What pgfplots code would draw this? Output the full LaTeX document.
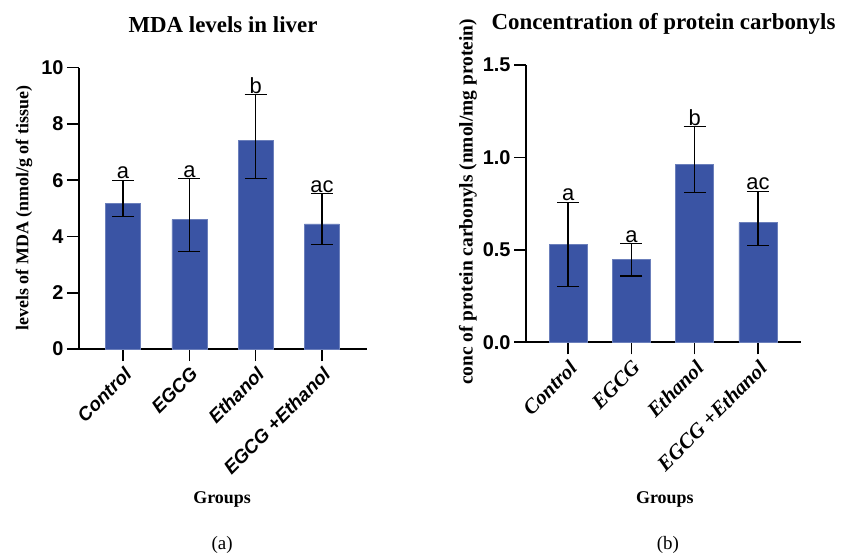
\documentclass[border=0pt]{standalone}
\usepackage{fontspec}
\setmainfont{Liberation Serif}
\setsansfont{Liberation Sans}
\usepackage{pgfplots}
\pgfplotsset{compat=1.18}
\definecolor{barblue}{RGB}{58,84,164}
\pgfplotsset{mybar/.style={
  scale only axis, axis lines=left, axis line style={-, line width=1.6bp},
  major tick style={line width=1.6bp, black}, major tick length=12bp, tick align=outside,
  xtick={0,1,2,3}, xticklabels={Control,EGCG,Ethanol,EGCG +Ethanol},
  ymin=0, enlargelimits=false, xmin=-0.665, xmax=3.68, clip=false,
  ybar, bar shift=0pt,
  /pgf/number format/assume math mode=true,
  y tick label style={font=\sffamily\bfseries\fontsize{20}{24}\selectfont},
  title style={font=\rmfamily\bfseries\fontsize{23}{27}\selectfont, anchor=center},
  xlabel style={font=\rmfamily\bfseries\fontsize{18}{22}\selectfont, anchor=center},
  ylabel style={font=\rmfamily\bfseries\fontsize{18}{22}\selectfont, anchor=center, rotate=0},
  mybars/.style={fill=barblue, draw=barblue!75!white, line width=0.5bp,
    error bars/.cd, y dir=both, y explicit,
    error bar style={line width=1.2bp, black},
    error mark options={rotate=90, mark size=11bp, line width=1.2bp, black}},
}}
\begin{document}
\begin{tikzpicture}
\path[use as bounding box] (0,0) rectangle (842bp,554bp);
% (a)
\begin{axis}[mybar, at={(79bp,205bp)}, anchor=south west, width=288bp, height=281.3bp,
  ymax=10, ytick={0,2,4,6,8,10}, bar width=35bp,
  x tick label style={rotate=45, anchor=north east, font=\sffamily\bfseries\itshape\fontsize{19}{22}\selectfont},
  title={MDA levels in liver}, title style={at={(axis description cs:0.5,1.13)}},
  xlabel={Groups}, xlabel style={at={(axis description cs:0.497,-0.535)}},
  ylabel={levels of MDA (nmol/g of tissue)}, ylabel style={at={(axis description cs:-0.191,0.501)}},
  ]
\addplot[mybars] coordinates {
  (0,5.19) += (0,0.81) -= (0,0.49)
  (1,4.60) += (0,1.46) -= (0,1.12)
  (2,7.41) += (0,1.63) -= (0,1.36)
  (3,4.45) += (0,1.08) -= (0,0.74)
};
\begin{scope}[every node/.style={anchor=south, inner sep=1bp, font=\sffamily\fontsize{22}{24}\selectfont}]
\node at (axis cs:0,6.00) {a};
\node at (axis cs:1,6.06) {a};
\node at (axis cs:2,9.04) {b};
\node at (axis cs:3,5.53) {ac};
\end{scope}
\node[font=\rmfamily\fontsize{19}{22}\selectfont] at (axis description cs:0.497,-0.697) {(a)};
\end{axis}
% (b)
\begin{axis}[mybar, at={(526bp,211.7bp)}, anchor=south west, width=275bp, height=277.3bp,
  ymax=1.5, ytick={0,0.5,1,1.5}, bar width=38bp,
  yticklabel style={/pgf/number format/.cd, fixed, fixed zerofill, precision=1},
  x tick label style={rotate=45, anchor=north east, font=\rmfamily\bfseries\itshape\fontsize{21}{24}\selectfont},
  title={Concentration of protein carbonyls}, title style={at={(axis description cs:0.5,1.125)}},
  xlabel={Groups}, xlabel style={at={(axis description cs:0.505,-0.567)}},
  ylabel={conc of protein carbonyls (nmol/mg protein)}, ylabel style={at={(axis description cs:-0.211,0.506)}, font=\rmfamily\bfseries\fontsize{19.5}{22}\selectfont},
  ]
\addplot[mybars] coordinates {
  (0,0.530) += (0,0.227) -= (0,0.230)
  (1,0.450) += (0,0.083) -= (0,0.091)
  (2,0.964) += (0,0.202) -= (0,0.153)
  (3,0.647) += (0,0.170) -= (0,0.125)
};
\begin{scope}[every node/.style={anchor=south, inner sep=1bp, font=\sffamily\fontsize{22}{24}\selectfont}]
\node at (axis cs:0,0.757) {a};
\node at (axis cs:1,0.533) {a};
\node at (axis cs:2,1.166) {b};
\node at (axis cs:3,0.817) {ac};
\end{scope}
\node[font=\rmfamily\fontsize{19}{22}\selectfont] at (axis description cs:0.516,-0.731) {(b)};
\end{axis}
\end{tikzpicture}
\end{document}
